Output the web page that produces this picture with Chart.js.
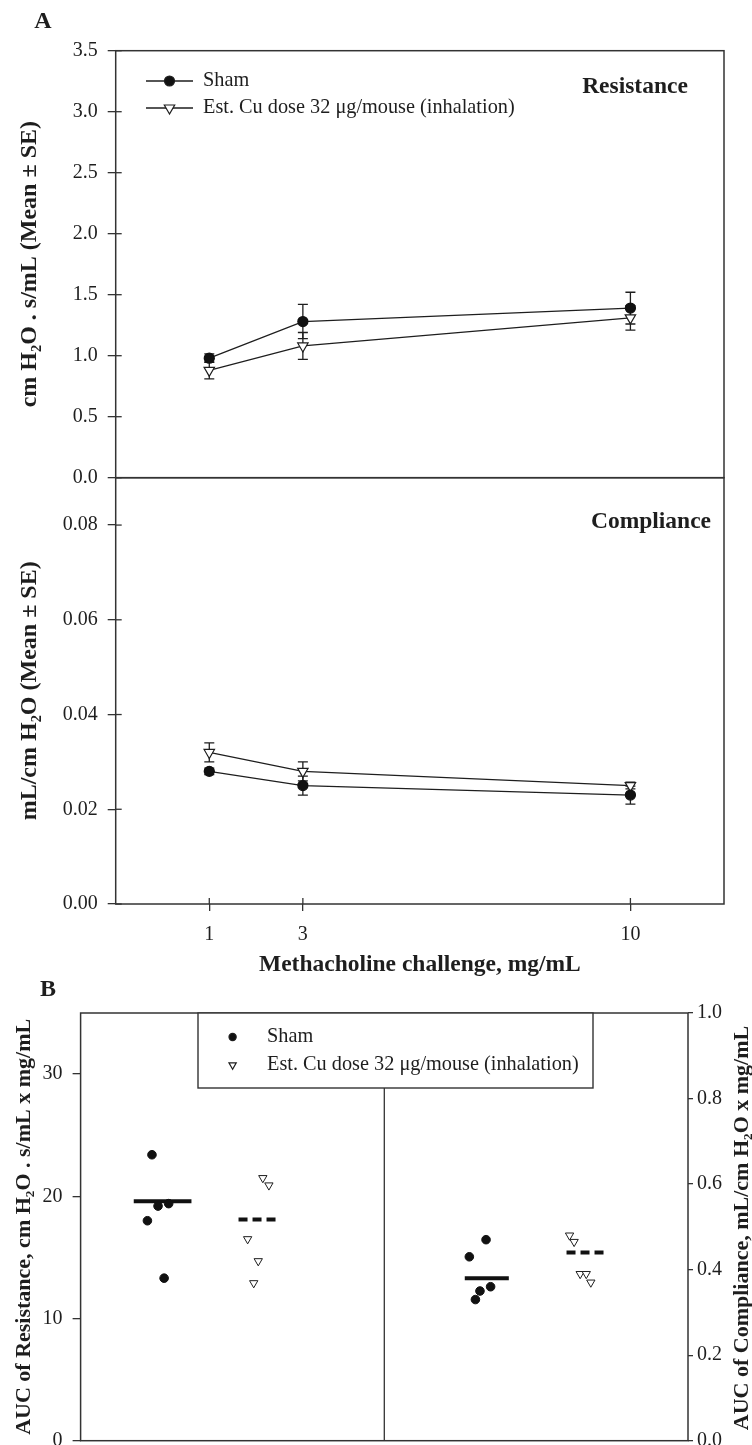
<!DOCTYPE html>
<html>
<head>
<meta charset="utf-8">
<script src="https://cdn.jsdelivr.net/npm/chart.js@4.4.1/dist/chart.umd.min.js"></script>
<style>
  html, body { margin: 0; padding: 0; background: #fff; overflow: hidden; }
  #page { position: relative; width: 752px; height: 1445px; overflow: hidden; }
  canvas { position: absolute; left: 0; }
  #resChart { top: 0; }
  #compChart { top: 430px; }
  #aucChart { top: 940px; }
</style>
</head>
<body>
<div id="page">
  <canvas id="resChart" width="752" height="520"></canvas>
  <canvas id="compChart" width="752" height="560"></canvas>
  <canvas id="aucChart" width="752" height="540"></canvas>
</div>
<script>
// ---- data (panel A: mean +/- SE per methacholine dose) ----
const doses = [1, 3, 10];
const shamRes = [0.98, 1.28, 1.39];
const shamResSE = [0.035, 0.14, 0.13];
const cuRes = [0.88, 1.08, 1.31];
const cuResSE = [0.07, 0.11, 0.10];
const shamComp = [0.028, 0.025, 0.023];
const shamCompSE = [0.0007, 0.002, 0.0019];
const cuComp = [0.032, 0.028, 0.025];
const cuCompSE = [0.002, 0.002, 0.0007];

// ---- data (panel B: individual AUC values, x = jittered group position) ----
const shamAucResX = [0.47, 0.51, 0.58, 0.44, 0.55];
const shamAucRes = [23.4, 19.2, 19.4, 18.0, 13.3];
const cuAucResX = [1.20, 1.24, 1.10, 1.17, 1.14];
const cuAucRes = [21.5, 20.9, 16.5, 14.7, 12.9];
const shamAucCompX = [2.67, 2.56, 2.70, 2.63, 2.60];
const shamAucComp = [0.47, 0.43, 0.36, 0.35, 0.33];
const cuAucCompX = [3.22, 3.25, 3.29, 3.33, 3.36];
const cuAucComp = [0.48, 0.465, 0.39, 0.39, 0.37];
const groupMeans = [19.6, 18.1, 0.38, 0.44];

// tick labels
const resTicks = { min: 0, max: 3.5, step: 0.5 };
const compTicks = { min: 0, max: 0.09, step: 0.02 };
const aucResTicks = { min: 0, max: 35, step: 10 };
const aucCompTicks = { min: 0, max: 1, step: 0.2 };

const SHAM_LABEL = 'Sham';
const CU_LABEL = 'Est. Cu dose 32 \u03bcg/mouse (inhalation)';

// ---- styling ----
const INK = '#1e1e1e';
const AXIS = '#333';
const SERIF = '"Liberation Serif", "Times New Roman", serif';
const TICK_FONT = { size: 20 };
const TITLE_FONT = { size: 23.5, weight: 'bold' };
const A_YTITLE_FONT = { size: 24, weight: 'bold' };
const B_YTITLE_FONT = { size: 22, weight: 'bold' };
const meanSpan = [[0.35, 0.73], [1.04, 1.31], [2.53, 2.82], [3.20, 3.47]];

Chart.defaults.font.family = SERIF;
Chart.defaults.color = INK;
Chart.defaults.animation = false;

const pts = (xs, ys) => xs.map((x, i) => ({ x: x, y: ys[i] }));

function marker(ctx, style, x, y, r) {
  ctx.save();
  ctx.lineWidth = 1.2;
  ctx.strokeStyle = INK;
  ctx.fillStyle = style === 'circle' ? '#111' : '#fff';
  if (Chart.helpers && Chart.helpers.drawPoint) {
    Chart.helpers.drawPoint(ctx, { pointStyle: style, radius: r, rotation: style === 'triangle' ? 180 : 0, borderWidth: 1.2 }, x, y);
  } else {
    ctx.beginPath();
    if (style === 'circle') ctx.arc(x, y, r, 0, Math.PI * 2);
    else { ctx.moveTo(x, y + r); ctx.lineTo(x - r * 0.866, y - r / 2); ctx.lineTo(x + r * 0.866, y - r / 2); ctx.closePath(); }
    ctx.fill(); ctx.stroke();
  }
  ctx.restore();
}

function text(ctx, str, x, y, font, align, rot) {
  ctx.save();
  ctx.fillStyle = INK;
  ctx.font = font;
  ctx.textAlign = align || 'left';
  ctx.textBaseline = 'middle';
  ctx.translate(x, y);
  if (rot) ctx.rotate(rot);
  ctx.fillText(str, 0, 0);
  ctx.restore();
}

function framePlugin(innerLen) {
  return {
    id: 'frame',
    afterDatasetsDraw(chart) {
      const { ctx, chartArea: a } = chart;
      ctx.save();
      ctx.strokeStyle = AXIS;
      ctx.lineWidth = 1.5;
      ctx.strokeRect(a.left, a.top, a.right - a.left, a.bottom - a.top);
      if (innerLen) {
        ctx.lineWidth = 1.3;
        Object.values(chart.scales).forEach(s => {
          if (!s.options.display || s.id === 'y2') return;
          s.ticks.forEach(t => {
            const p = s.getPixelForValue(t.value);
            ctx.beginPath();
            if (s.isHorizontal()) { ctx.moveTo(p, a.bottom); ctx.lineTo(p, a.bottom - innerLen); }
            else { ctx.moveTo(a.left, p); ctx.lineTo(a.left + innerLen, p); }
            ctx.stroke();
          });
        });
      }
      ctx.restore();
    }
  };
}

function errorBarPlugin(seLists) {
  return {
    id: 'errorBars',
    beforeDatasetsDraw(chart) {
      const { ctx, scales: { x, y } } = chart;
      ctx.save();
      ctx.strokeStyle = INK;
      ctx.lineWidth = 1.3;
      chart.data.datasets.forEach((ds, i) => {
        ds.data.forEach((p, j) => {
          const px = x.getPixelForValue(p.x);
          const hi = y.getPixelForValue(p.y + seLists[i][j]);
          const lo = y.getPixelForValue(p.y - seLists[i][j]);
          ctx.beginPath();
          ctx.moveTo(px, hi); ctx.lineTo(px, lo);
          ctx.moveTo(px - 5, hi); ctx.lineTo(px + 5, hi);
          ctx.moveTo(px - 5, lo); ctx.lineTo(px + 5, lo);
          ctx.stroke();
        });
      });
      ctx.restore();
    }
  };
}

function decorPlugin(draw) {
  return { id: 'decor', afterDraw(chart) { draw(chart.ctx, chart); } };
}

function lineDatasets(sham, cu) {
  return [
    { label: SHAM_LABEL, data: pts(doses, sham), borderColor: INK, borderWidth: 1.3,
      pointStyle: 'circle', pointRadius: 5, pointBackgroundColor: '#111', pointBorderColor: '#111' },
    { label: CU_LABEL, data: pts(doses, cu), borderColor: INK, borderWidth: 1.3,
      pointStyle: 'triangle', pointRotation: 180, pointRadius: 6,
      pointBackgroundColor: '#fff', pointBorderColor: INK, pointBorderWidth: 1.2 }
  ];
}

function leftAxis(t, digits, title, titleFont, width, titlePad) {
  return {
    min: t.min, max: t.max,
    ticks: { stepSize: t.step, includeBounds: false, font: TICK_FONT, color: INK, padding: 10,
             callback: v => Number(v).toFixed(digits) },
    grid: { drawOnChartArea: false, tickLength: 8, color: AXIS, lineWidth: 1.3 },
    border: { display: false },
    title: { display: true, text: title, font: titleFont, color: INK, padding: { top: titlePad, bottom: 0 } },
    afterFit: s => { s.width = width; }
  };
}

// ---- panel A, resistance ----
new Chart(document.getElementById('resChart'), {
  type: 'line',
  data: { datasets: lineDatasets(shamRes, cuRes) },
  options: {
    responsive: false,
    layout: { padding: { top: 50.7, right: 28, bottom: 42.3, left: 0 } },
    plugins: { legend: { display: false }, tooltip: { enabled: false } },
    scales: {
      x: { type: 'linear', min: -1, max: 12, display: false },
      y: leftAxis(resTicks, 1, 'cm H\u2082O . s/mL (Mean \u00b1 SE)', A_YTITLE_FONT, 115.7, 15)
    }
  },
  plugins: [errorBarPlugin([shamResSE, cuResSE]), framePlugin(6), decorPlugin(ctx => {
    text(ctx, 'A', 43, 22, 'bold 24px ' + SERIF, 'center');
    text(ctx, 'Resistance', 635, 87, 'bold 23.5px ' + SERIF, 'center');
    [[SHAM_LABEL, 'circle', 81, 5], [CU_LABEL, 'triangle', 108, 6]].forEach(([label, style, y, r]) => {
      ctx.save();
      ctx.strokeStyle = INK; ctx.lineWidth = 1.3;
      ctx.beginPath(); ctx.moveTo(146, y); ctx.lineTo(193, y); ctx.stroke();
      ctx.restore();
      marker(ctx, style, 169.5, y, r);
      text(ctx, label, 203, y, '20.3px ' + SERIF, 'left');
    });
  })]
});

// ---- panel A, compliance ----
new Chart(document.getElementById('compChart'), {
  type: 'line',
  data: { datasets: lineDatasets(shamComp, cuComp) },
  options: {
    responsive: false,
    layout: { padding: { top: 47.7, right: 28, bottom: 0, left: 0 } },
    plugins: { legend: { display: false }, tooltip: { enabled: false } },
    scales: {
      x: {
        type: 'linear', min: -1, max: 12,
        afterBuildTicks: s => { s.ticks = doses.map(v => ({ value: v })); },
        ticks: { font: TICK_FONT, color: INK, padding: 12, callback: v => String(v) },
        grid: { drawOnChartArea: false, tickLength: 7, color: AXIS, lineWidth: 1.3 },
        border: { display: false },
        title: { display: true, text: 'Methacholine challenge, mg/mL', font: TITLE_FONT, color: INK, padding: { top: 0, bottom: 11 } },
        afterFit: s => { s.height = 86; }
      },
      y: leftAxis(compTicks, 2, 'mL/cm H\u2082O (Mean \u00b1 SE)', A_YTITLE_FONT, 115.7, 15)
    }
  },
  plugins: [errorBarPlugin([shamCompSE, cuCompSE]), framePlugin(6), decorPlugin(ctx => {
    text(ctx, 'Compliance', 651, 92, 'bold 23.5px ' + SERIF, 'center');
  })]
});

// ---- panel B, AUC ----
const meanLine = (i, axis, dashed) => ({
  type: 'line', data: pts(meanSpan[i], [groupMeans[i], groupMeans[i]]), yAxisID: axis,
  showLine: true, borderColor: '#111', borderWidth: 4, borderDash: dashed ? [9, 5] : [],
  pointRadius: 0
});
const dots = (xs, ys, axis, label) => ({
  label: label, data: pts(xs, ys), yAxisID: axis, pointStyle: 'circle', pointRadius: 4.3,
  pointBackgroundColor: '#111', pointBorderColor: '#111'
});
const tris = (xs, ys, axis, label) => ({
  label: label, data: pts(xs, ys), yAxisID: axis, pointStyle: 'triangle', pointRotation: 180,
  pointRadius: 4.8, pointBackgroundColor: '#fff', pointBorderColor: INK, pointBorderWidth: 1
});

new Chart(document.getElementById('aucChart'), {
  type: 'scatter',
  data: {
    datasets: [
      dots(shamAucResX, shamAucRes, 'y', SHAM_LABEL),
      tris(cuAucResX, cuAucRes, 'y', CU_LABEL),
      dots(shamAucCompX, shamAucComp, 'y2', SHAM_LABEL),
      tris(cuAucCompX, cuAucComp, 'y2', CU_LABEL),
      meanLine(0, 'y', false), meanLine(1, 'y', true),
      meanLine(2, 'y2', false), meanLine(3, 'y2', true)
    ]
  },
  options: {
    responsive: false,
    layout: { padding: { top: 73, right: 0, bottom: 39.3, left: 0 } },
    plugins: { legend: { display: false }, tooltip: { enabled: false } },
    scales: {
      x: { type: 'linear', min: 0, max: 4, display: false },
      y: leftAxis(aucResTicks, 0, 'AUC of Resistance, cm H\u2082O . s/mL x mg/mL', B_YTITLE_FONT, 80.6, 11),
      y2: {
        position: 'right', min: aucCompTicks.min, max: aucCompTicks.max,
        ticks: { stepSize: aucCompTicks.step, font: TICK_FONT, color: INK, padding: 4,
                 callback: v => Number(v).toFixed(1) },
        grid: { drawOnChartArea: false, tickLength: 5, color: AXIS, lineWidth: 1.3 },
        border: { display: false },
        afterFit: s => { s.width = 64; }
      }
    }
  },
  plugins: [framePlugin(0), decorPlugin((ctx, chart) => {
    const a = chart.chartArea;
    const mid = chart.scales.x.getPixelForValue(2);
    ctx.save();
    ctx.strokeStyle = AXIS; ctx.lineWidth = 1.3;
    ctx.beginPath(); ctx.moveTo(mid, a.top); ctx.lineTo(mid, a.bottom); ctx.stroke();
    // legend box
    ctx.fillStyle = '#fff';
    ctx.fillRect(198, a.top, 395, 75);
    ctx.lineWidth = 1.4;
    ctx.strokeRect(198, a.top, 395, 75);
    ctx.restore();
    marker(ctx, 'circle', 232.6, 97, 3.6);
    text(ctx, SHAM_LABEL, 267, 97, '20.3px ' + SERIF, 'left');
    marker(ctx, 'triangle', 232.6, 125, 4.2);
    text(ctx, CU_LABEL, 267, 125, '20.3px ' + SERIF, 'left');
    text(ctx, 'B', 48, 50, 'bold 24px ' + SERIF, 'center');
    text(ctx, 'AUC of Compliance, mL/cm H\u2082O x mg/mL', 742, 288, 'bold 22px ' + SERIF, 'center', -Math.PI / 2);
  })]
});
</script>
</body>
</html>
